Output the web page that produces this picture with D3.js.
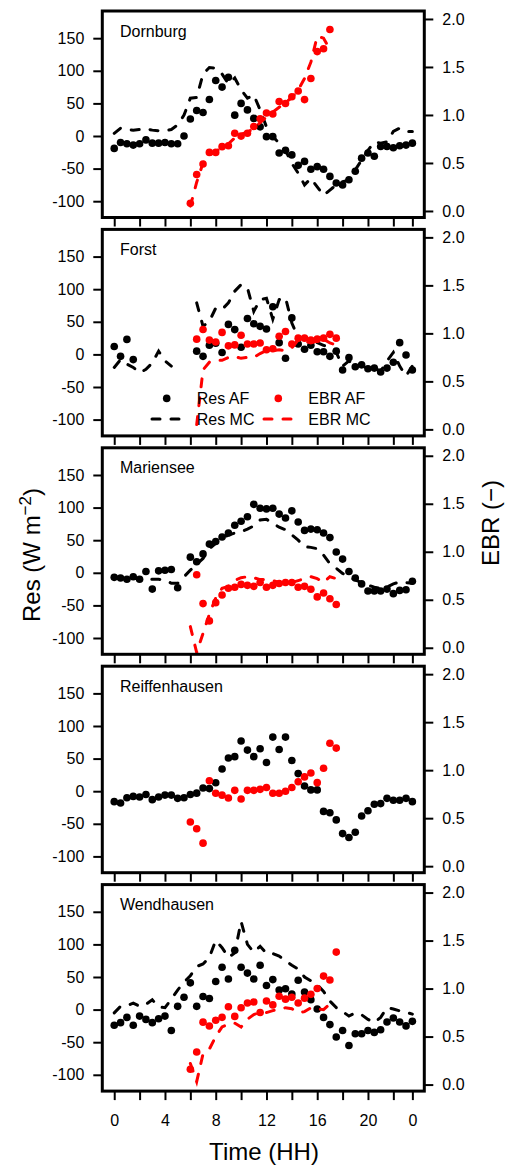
<!DOCTYPE html>
<html>
<head>
<meta charset="utf-8">
<script src="https://cdn.jsdelivr.net/npm/d3@7"></script>
<style>
body{margin:0;background:#fff;}
text{font-family:"Liberation Sans",Arial,sans-serif;fill:#000;}
</style>
</head>
<body>
<div id="chart"></div>
<script>
// half-hourly time steps
var hours=[0,0.5,1,1.5,2,2.5,3,3.5,4,4.5,5,5.5,6,6.5,7,7.5,8,8.5,9,9.5,10,10.5,11,11.5,
	12,12.5,13,13.5,14,14.5,15,15.5,16,16.5,17,17.5,18,18.5,19,19.5,20,20.5,21,21.5,22,22.5,23,23.5];
var xTicks=[0,2,4,6,8,10,12,14,16,18,20,22,23.5];
var xLabels={0:"0",4:"4",8:"8",12:"12",16:"16",20:"20",23.5:"0"};
var resTicks=[-100,-50,0,50,100,150];
var ebrTicks=[0,0.5,1,1.5,2];
var sites=["Dornburg","Forst","Mariensee","Reiffenhausen","Wendhausen"];
var N=null;

var dornburgResAF=[-19,-10,-12,-14,-12,-6,-11,-11,-10,-12,-12,0,26,39,36,56,85,75,90,32,50,40,27,14,
	-1,-1,-26,-22,-29,-45,-39,-51,-47,-51,-62,-72,-75,-67,-54,-34,-26,-31,-16,-16,-18,-15,-14,-11];
var dornburgResMC=[4,12,10,9,10,11,9,8,8,10,17,32,58,59,95,105,104,95,80,89,71,58,63,40,
	14,-1,-11,-22,-42,-57,-75,-65,-78,-91,-83,-75,-70,-68,-52,-37,-22,-9,-11,-9,7,12,7,7];
var dornburgEbrAF=[N,N,N,N,N,N,N,N,N,N,N,N,0.08,0.38,0.49,0.61,0.61,0.67,0.68,0.81,0.78,0.81,0.88,0.96,
	1.02,1.01,1.14,1.12,1.19,1.25,1.16,1.38,1.66,1.69,1.89,N,N,N,N,N,N,N,N,N,N,N,N,N];
var dornburgEbrMC=[N,N,N,N,N,N,N,N,N,N,N,N,0.05,0.3,0.5,0.58,0.62,0.66,0.7,0.76,0.8,0.82,0.86,0.92,
	0.98,1.03,1.08,1.13,1.18,1.26,1.38,1.55,1.82,1.8,1.68,N,N,N,N,N,N,N,N,N,N,N,N,N];

var forstResAF=[12,-3,23,-8,N,N,N,N,N,N,N,N,N,5,-3,14,17,3,46,38,11,55,47,43,
	39,73,18,-6,56,16,8,14,4,4,-3,5,-24,-5,-19,-16,-22,-21,-27,-21,-12,18,-1,-24];
var forstResMC=[-20,-8,-15,-20,-28,-23,-13,5,-10,-18,N,N,N,79,43,51,71,69,79,97,107,102,66,84,
	86,54,84,87,48,26,23,22,18,14,10,3,-18,-10,-18,-17,-22,-21,-26,-10,3,-18,-33,-18];
var forstEbrAF=[N,N,N,N,N,N,N,N,N,N,N,N,N,0.94,1.04,0.93,0.91,1.01,0.87,0.88,0.98,0.89,0.89,0.9,
	0.83,0.84,0.97,1.02,0.89,0.95,0.95,0.93,0.94,0.95,0.99,0.95,N,N,N,N,N,N,N,N,N,N,N,N];
var forstEbrMC=[N,N,N,N,N,N,N,N,N,N,N,N,N,0.05,0.62,0.7,0.72,0.72,0.75,0.76,0.74,0.75,0.75,0.79,
	0.82,0.82,0.83,0.82,0.85,0.93,0.92,0.9,0.92,0.94,0.9,0.88,N,N,N,N,N,N,N,N,N,N,N,N];

var mariens_ResAF=[-7,-8,-10,-6,-10,2,-25,3,4,5,-23,N,24,17,29,44,48,55,61,73,79,86,105,99,
	98,99,90,84,95,78,65,67,66,61,54,32,21,2,-8,-17,-28,-28,-28,-25,-32,-27,-26,-13];
var mariens_ResMC=[-6,-7,-9,-8,-10,-11,-10,-10,-11,-16,-16,-6,4,13,22,37,45,53,58,61,63,67,72,81,
	82,76,70,66,58,50,40,39,37,27,14,7,-1,-6,-11,-15,-19,-22,-24,-22,-17,-14,-15,-16];
var mariens_EbrAF=[N,N,N,N,N,N,N,N,N,N,N,N,N,0.76,0.46,0.28,0.47,0.55,0.62,0.63,0.66,0.65,0.64,0.68,
	0.63,0.65,0.67,0.68,0.68,0.63,0.64,0.61,0.53,0.57,0.51,0.45,N,N,N,N,N,N,N,N,N,N,N,N];
var mariens_EbrMC=[N,N,N,N,N,N,N,N,N,N,N,N,0.22,-0.05,0.15,0.35,0.52,0.62,0.64,0.7,0.73,0.74,0.73,0.71,
	0.71,0.7,0.68,0.68,0.68,0.7,0.72,0.74,0.72,0.68,0.74,0.72,N,N,N,N,N,N,N,N,N,N,N,N];

var reiffResAF=[-16,-18,-10,-8,-9,-5,-13,-9,-6,-6,-11,-10,-5,-3,5,4,13,34,51,53,77,63,53,65,
	44,83,64,83,47,27,8,2,2,-31,-33,-44,-65,-71,-63,-38,-30,-20,-19,-11,-14,-14,-11,-16];
var reiffEbrAF=[N,N,N,N,N,N,N,N,N,N,N,N,0.46,0.39,0.24,0.89,0.76,0.74,0.71,0.79,0.7,0.79,0.79,0.8,
	0.82,0.76,0.76,0.78,0.82,0.88,0.93,0.97,0.87,1.02,1.28,1.23,N,N,N,N,N,N,N,N,N,N,N,N];

var wendResAF=[-24,-20,-12,-24,-10,-15,-20,-14,-10,-32,5,19,41,5,20,17,43,65,47,91,65,56,47,68,
	37,46,30,32,24,45,27,15,1,-12,-23,-42,-32,-55,-37,-37,-32,-35,-31,-19,-13,-19,-25,-18];
var wendResMC=[-5,5,6,10,5,8,15,4,3,16,30,42,52,66,70,80,106,95,80,87,135,100,88,97,
	86,86,82,75,68,62,50,44,38,28,13,3,-3,-10,-5,-8,-15,-20,-12,3,1,-2,-4,-7];
var wendEbrAF=[N,N,N,N,N,N,N,N,N,N,N,N,0.16,0.34,0.65,0.61,0.67,0.7,0.81,0.71,0.8,0.85,0.86,0.75,
	0.87,0.83,0.92,0.89,0.91,0.85,0.9,0.94,1.0,1.13,1.09,1.38,N,N,N,N,N,N,N,N,N,N,N,N];
var wendEbrMC=[N,N,N,N,N,N,N,N,N,N,N,N,0.22,0.03,0.32,0.37,0.5,0.6,0.63,0.64,0.6,0.68,0.73,0.75,
	0.75,0.77,0.79,0.8,0.79,0.75,0.76,0.8,0.79,0.78,0.84,0.86,N,N,N,N,N,N,N,N,N,N,N,N];

var panels=[
	{name:sites[0],resAF:dornburgResAF,resMC:dornburgResMC,ebrAF:dornburgEbrAF,ebrMC:dornburgEbrMC},
	{name:sites[1],resAF:forstResAF,resMC:forstResMC,ebrAF:forstEbrAF,ebrMC:forstEbrMC,legend:true},
	{name:sites[2],resAF:mariens_ResAF,resMC:mariens_ResMC,ebrAF:mariens_EbrAF,ebrMC:mariens_EbrMC},
	{name:sites[3],resAF:reiffResAF,resMC:null,ebrAF:reiffEbrAF,ebrMC:null},
	{name:sites[4],resAF:wendResAF,resMC:wendResMC,ebrAF:wendEbrAF,ebrMC:wendEbrMC}
];

var W=506,H=1167;
var left=102.3,right=424.3;
var top0=11,step=218.4,ph=206.5;
var RED="#ff0000";
var DOT=3.8;

var svg=d3.select("#chart").append("svg").attr("width",W).attr("height",H);
svg.append("rect").attr("width",W).attr("height",H).attr("fill","#fff");

var x=d3.scaleLinear().domain([-0.94,24.44]).range([left,right]);
var yL=d3.scaleLinear().domain([-125,191.7]).range([ph,0]);
var yR=d3.scaleLinear().domain([-0.068,2.083]).range([ph,0]);

function pts(arr){
	return hours.map(function(h,i){return [h,arr[i]];});
}

panels.forEach(function(p,k){
	var g=svg.append("g").attr("transform","translate(0,"+(top0+k*step)+")");

	g.append("clipPath").attr("id","clip"+k)
		.append("rect").attr("x",left).attr("y",0).attr("width",right-left).attr("height",ph);
	var plot=g.append("g").attr("clip-path","url(#clip"+k+")");

	var lineL=d3.line().defined(function(d){return d[1]!=null;})
		.x(function(d){return x(d[0]);}).y(function(d){return yL(d[1]);});
	var lineR=d3.line().defined(function(d){return d[1]!=null;})
		.x(function(d){return x(d[0]);}).y(function(d){return yR(d[1]);});

	//***************************
	//RES (left axis)
	//***************************
	plot.selectAll(".resaf").data(pts(p.resAF).filter(function(d){return d[1]!=null;}))
		.enter().append("circle").attr("class","resaf")
		.attr("cx",function(d){return x(d[0]);})
		.attr("cy",function(d){return yL(d[1]);})
		.attr("r",DOT).attr("fill","#000");
	if(p.resMC){
		plot.append("path").attr("d",lineL(pts(p.resMC)))
			.attr("fill","none").attr("stroke","#000").attr("stroke-width",3)
			.attr("stroke-dasharray","8,11").attr("stroke-linecap","round");
	}

	//***************************
	//EBR (right axis)
	//***************************
	plot.selectAll(".ebraf").data(pts(p.ebrAF).filter(function(d){return d[1]!=null;}))
		.enter().append("circle").attr("class","ebraf")
		.attr("cx",function(d){return x(d[0]);})
		.attr("cy",function(d){return yR(d[1]);})
		.attr("r",DOT).attr("fill",RED);
	if(p.ebrMC){
		plot.append("path").attr("d",lineR(pts(p.ebrMC)))
			.attr("fill","none").attr("stroke",RED).attr("stroke-width",3)
			.attr("stroke-dasharray","8,11").attr("stroke-linecap","round");
	}

	//***************************
	//AXES
	//***************************
	var aL=g.append("g").attr("transform","translate("+left+",0)")
		.call(d3.axisLeft(yL).tickValues(resTicks).tickSize(9).tickPadding(9)
			.tickFormat(function(d){return String(d);}));
	var aR=g.append("g").attr("transform","translate("+right+",0)")
		.call(d3.axisRight(yR).tickValues(ebrTicks).tickSize(9).tickPadding(9)
			.tickFormat(d3.format(".1f")));
	var aB=g.append("g").attr("transform","translate(0,"+ph+")")
		.call(d3.axisBottom(x).tickValues(xTicks).tickSize(9).tickPadding(15)
			.tickFormat(function(d){return k==panels.length-1&&xLabels[d]!=undefined?xLabels[d]:"";}));
	[aL,aR,aB].forEach(function(a){
		a.select(".domain").remove();
		a.selectAll("line").attr("stroke","#000").attr("stroke-width",2);
		a.selectAll("text").attr("font-size",16).attr("fill","#000")
			.style("font-family","'Liberation Sans',Arial,sans-serif");
	});

	g.append("rect").attr("x",left).attr("y",0).attr("width",right-left).attr("height",ph)
		.attr("fill","none").attr("stroke","#000").attr("stroke-width",3);

	g.append("text").attr("x",120).attr("y",25.5).attr("font-size",16).text(p.name);

	//***************************
	//LEGEND
	//***************************
	if(p.legend){
		var r1=169,r2=189.6;
		g.append("circle").attr("cx",166.7).attr("cy",r1).attr("r",DOT).attr("fill","#000");
		g.append("circle").attr("cx",278.3).attr("cy",r1).attr("r",DOT).attr("fill",RED);
		g.append("line").attr("x1",152).attr("x2",183).attr("y1",r2).attr("y2",r2)
			.attr("stroke","#000").attr("stroke-width",3).attr("stroke-dasharray","8,11").attr("stroke-linecap","round");
		g.append("line").attr("x1",264).attr("x2",295).attr("y1",r2).attr("y2",r2)
			.attr("stroke",RED).attr("stroke-width",3).attr("stroke-dasharray","8,11").attr("stroke-linecap","round");
		var lt=[["Res AF",196.7,r1],["EBR AF",308.3,r1],["Res MC",196.7,r2],["EBR MC",308.3,r2]];
		lt.forEach(function(t){
			g.append("text").attr("x",t[1]).attr("y",t[2]+5.8).attr("font-size",16).text(t[0]);
		});
	}
});

//***************************
//AXIS TITLES
//***************************
svg.append("text").attr("x",264).attr("y",1160).attr("text-anchor","middle")
	.attr("font-size",24).text("Time (HH)");

var resT=svg.append("text").attr("transform","translate(40,555) rotate(-90)")
	.attr("text-anchor","middle").attr("font-size",24);
resT.append("tspan").text("Res (W m");
resT.append("tspan").attr("dy",-9).attr("font-size",17).text("\u22122");
resT.append("tspan").attr("dy",9).text(")");

svg.append("text").attr("transform","translate(499,523) rotate(-90)")
	.attr("text-anchor","middle").attr("font-size",24).text("EBR (\u2212)");
</script>
</body>
</html>
